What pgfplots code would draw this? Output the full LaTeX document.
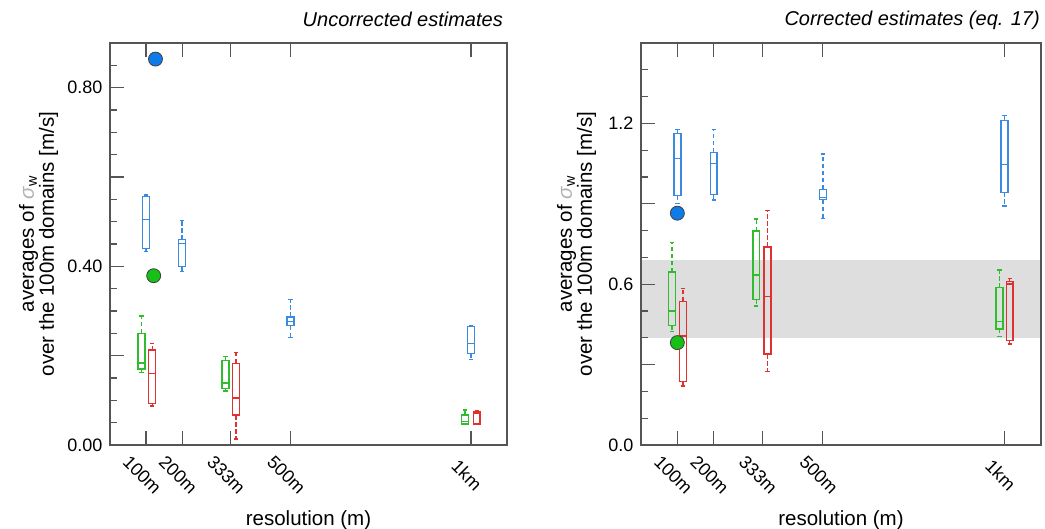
\documentclass[border=0pt]{standalone}
\usepackage{pgfplots}
\pgfplotsset{compat=1.18}
\usepackage{fontspec}
\setmainfont{Liberation Sans}

\definecolor{cblue}{HTML}{3A8BE0}
\definecolor{cgreen}{HTML}{2DBE2D}
\definecolor{cred}{HTML}{E0302F}
\definecolor{dblue}{HTML}{0F7BE8}
\definecolor{dgreen}{HTML}{16C016}
\definecolor{axgray}{HTML}{555555}
\definecolor{band}{HTML}{DEDEDE}

% x positions in units of 100 m
% \bx{colour}{position}{lower whisker}{lower quartile}{median}{upper quartile}{upper whisker}
\newcommand{\bx}[7]{%
 \pgfmathsetmacro\bxL{#2-0.095}\pgfmathsetmacro\bxR{#2+0.095}%
 \pgfmathsetmacro\cpL{#2-0.06}\pgfmathsetmacro\cpR{#2+0.06}%
 \addplot[#1, line width=1.4pt] coordinates {(\bxL,#4) (\bxR,#4) (\bxR,#6) (\bxL,#6)} -- cycle;
 \addplot[#1, line width=1.4pt] coordinates {(\bxL,#5) (\bxR,#5)};
 \addplot[#1, line width=1.4pt, dash pattern=on 4.5pt off 2.5pt] coordinates {(#2,#6) (#2,#7)};
 \addplot[#1, line width=1.4pt, dash pattern=on 4.5pt off 2.5pt] coordinates {(#2,#4) (#2,#3)};
 \addplot[#1, line width=1.4pt] coordinates {(\cpL,#7) (\cpR,#7)};
 \addplot[#1, line width=1.4pt] coordinates {(\cpL,#3) (\cpR,#3)};
}

\pgfplotsset{
 myaxis/.style={
   scale only axis, width=397pt, height=402pt, anchor=south west,
   xmin=0, xmax=11,
   xtick={1,2,3.3333,5,10}, xticklabels={100m,200m,333m,500m,1km},
   xtick pos=both, xticklabel pos=lower, ytick pos=left,
   tick align=inside,
   major tick length=14pt, minor tick length=7pt,
   axis line style={axgray, line width=1.3pt},
   every tick/.style={axgray, line width=1.2pt},
   xticklabel style={yshift=-30pt, xshift=-4pt, rotate=-45, anchor=center},
   yticklabel style={xshift=-4pt},
   /pgf/number format/assume math mode=true,
   xlabel={resolution (m)},
   ylabel={averages of \textcolor{gray!60}{\textit{σ}}\textsubscript{w}\\over the 100m domains [m/s]},
   ylabel style={align=center, font=\fontsize{20.5}{18}\selectfont},
   x label style={at={(axis description cs:0.5,-0.187)}, anchor=center, font=\fontsize{20.5}{22}\selectfont},
   title style={at={(axis description cs:1,1)}, anchor=base east, yshift=11pt, inner sep=0pt, font=\fontsize{20}{22}\selectfont\itshape},
   axis on top,
   clip=false,
   every axis plot/.append style={mark=none},
 },
}

\begin{document}
\begin{tikzpicture}[font=\fontsize{18}{19}\selectfont]
\useasboundingbox (0,0) rectangle (1045pt,529pt);

\begin{axis}[myaxis, at={(110pt,84pt)},
  ymin=0, ymax=0.9,
  ytick={0,0.2,0.4,0.6,0.8}, yticklabels={0.00,,0.40,,0.80},
  minor ytick={0.05,0.1,0.15,0.25,0.3,0.35,0.45,0.5,0.55,0.65,0.7,0.75,0.85},
  y label style={at={(axis description cs:-0.18,0.5)}, anchor=center},
  title style={xshift=-4pt},
  title={Uncorrected estimates}]
% blue
\bx{cblue}{1.00}{0.433}{0.440}{0.505}{0.557}{0.560}
\bx{cblue}{2.00}{0.388}{0.400}{0.451}{0.460}{0.503}
\bx{cblue}{5.00}{0.240}{0.267}{0.277}{0.287}{0.326}
\bx{cblue}{10.00}{0.192}{0.205}{0.227}{0.265}{0.268}
% green
\bx{cgreen}{0.87}{0.162}{0.170}{0.184}{0.250}{0.289}
\bx{cgreen}{3.20}{0.121}{0.126}{0.139}{0.189}{0.198}
\bx{cgreen}{9.84}{0.047}{0.047}{0.052}{0.067}{0.078}
% red
\bx{cred}{1.17}{0.087}{0.093}{0.160}{0.2125}{0.227}
\bx{cred}{3.49}{0.013}{0.067}{0.105}{0.183}{0.207}
\bx{cred}{10.16}{0.047}{0.047}{0.072}{0.075}{0.077}
\addplot[only marks, mark=*, mark size=7pt, mark options={fill=dblue, draw=black!75, line width=0.8pt}] coordinates {(1.26,0.864)};
\addplot[only marks, mark=*, mark size=7pt, mark options={fill=dgreen, draw=black!75, line width=0.8pt}] coordinates {(1.21,0.379)};
\end{axis}

\begin{axis}[myaxis, at={(641pt,84pt)}, width=400pt,
  ymin=0, ymax=1.5,
  ytick={0,0.3,0.6,0.9,1.2}, yticklabels={0.0,,0.6,,1.2},
  minor ytick={0.1,0.2,0.4,0.5,0.7,0.8,1.0,1.1,1.3,1.4},
  y label style={at={(axis description cs:-0.161,0.5)}, anchor=center},
  title style={xshift=-1pt},
  title={Corrected estimates (eq. 17)}]
\addplot[draw=none, fill=band] coordinates {(0,0.4) (11,0.4) (11,0.692) (0,0.692)} -- cycle;
% blue
\bx{cblue}{1.00}{0.900}{0.930}{1.069}{1.163}{1.178}
\bx{cblue}{2.00}{0.914}{0.935}{1.051}{1.092}{1.178}
\bx{cblue}{5.00}{0.846}{0.916}{0.924}{0.954}{1.086}
\bx{cblue}{10.00}{0.892}{0.943}{1.047}{1.211}{1.230}
% green
\bx{cgreen}{0.85}{0.423}{0.446}{0.500}{0.645}{0.756}
\bx{cgreen}{3.17}{0.519}{0.543}{0.634}{0.798}{0.844}
\bx{cgreen}{9.86}{0.404}{0.433}{0.460}{0.587}{0.653}
% red
\bx{cred}{1.15}{0.220}{0.2375}{0.407}{0.536}{0.584}
\bx{cred}{3.48}{0.275}{0.339}{0.553}{0.739}{0.874}
\bx{cred}{10.14}{0.377}{0.389}{0.600}{0.609}{0.622}
\addplot[only marks, mark=*, mark size=7pt, mark options={fill=dblue, draw=black!75, line width=0.8pt}] coordinates {(1.00,0.865)};
\addplot[only marks, mark=*, mark size=7pt, mark options={fill=dgreen, draw=black!75, line width=0.8pt}] coordinates {(1.00,0.382)};
\end{axis}
\end{tikzpicture}
\end{document}
